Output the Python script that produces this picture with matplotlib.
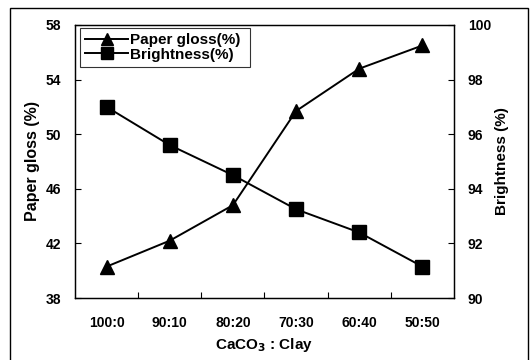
import matplotlib
matplotlib.use('Agg')
import matplotlib.pyplot as plt
from matplotlib.patches import Rectangle

plt.rcParams['font.family'] = ['Liberation Sans', 'DejaVu Sans']
plt.rcParams['font.weight'] = 'bold'
plt.rcParams['mathtext.default'] = 'bf'

# data
ratios = ['100:0', '90:10', '80:20', '70:30', '60:40', '50:50']
paper_gloss = [40.3, 42.2, 44.8, 51.7, 54.8, 56.5]
brightness = [97.0, 95.6, 94.5, 93.25, 92.4, 91.15]

fig = plt.figure(figsize=(5.32, 3.6), dpi=100)
ax = fig.add_axes([75 / 532, 1 - 298 / 360, (454 - 75) / 532, (298 - 25) / 360])
ax2 = ax.twinx()

x = list(range(len(ratios)))
l1, = ax.plot(x, paper_gloss, color='black', lw=1.4, marker='^', ms=10,
              label='Paper gloss(%) ')
l2, = ax2.plot(x, brightness, color='black', lw=1.4, marker='s', ms=9.5,
               label='Brightness(%) ')

ax.set_xlim(-0.5, 5.5)
ax.set_ylim(38, 58)
ax.set_yticks([38, 42, 46, 50, 54, 58])
ax2.set_ylim(90, 100)
ax2.set_yticks([90, 92, 94, 96, 98, 100])

# category labels in the middle, tick marks between categories
ax.set_xticks(x)
ax.set_xticklabels(ratios)
ax.set_xticks([0.5, 1.5, 2.5, 3.5, 4.5], minor=True)
ax.tick_params(axis='x', which='major', length=0, pad=13, labelsize=10)
ax.tick_params(axis='x', which='minor', direction='in', length=4, width=0.8)
ax.tick_params(axis='y', direction='in', length=4, width=0.8, labelsize=10, pad=10)
ax2.tick_params(axis='y', direction='in', length=4, width=0.8, labelsize=10, pad=10)

ax.set_xlabel('CaCO$_3$ : Clay', fontsize=11, fontweight='bold', labelpad=4)
ax.set_ylabel('Paper gloss (%)', fontsize=11.5, fontweight='bold', labelpad=4)
ax2.set_ylabel('Brightness (%)', fontsize=11, fontweight='bold', labelpad=3)

for a in (ax, ax2):
    for s in a.spines.values():
        s.set_linewidth(0.9)

leg = ax.legend(handles=[l1, l2], loc='upper left', bbox_to_anchor=(0.013, 0.99),
                fontsize=11, frameon=True, fancybox=False, edgecolor='black',
                handlelength=2.8, handletextpad=0.1, borderpad=0.35,
                labelspacing=0.05, borderaxespad=0.0, markerscale=0.85)
leg.get_frame().set_linewidth(0.8)

# outer frame around the whole picture
fig.patches.append(Rectangle((10 / 532, -0.01), (528 - 10) / 532, 1 - 8 / 360 + 0.01,
                             transform=fig.transFigure, fill=False,
                             edgecolor='black', lw=1.0))

fig.savefig('out.png', dpi=100)
